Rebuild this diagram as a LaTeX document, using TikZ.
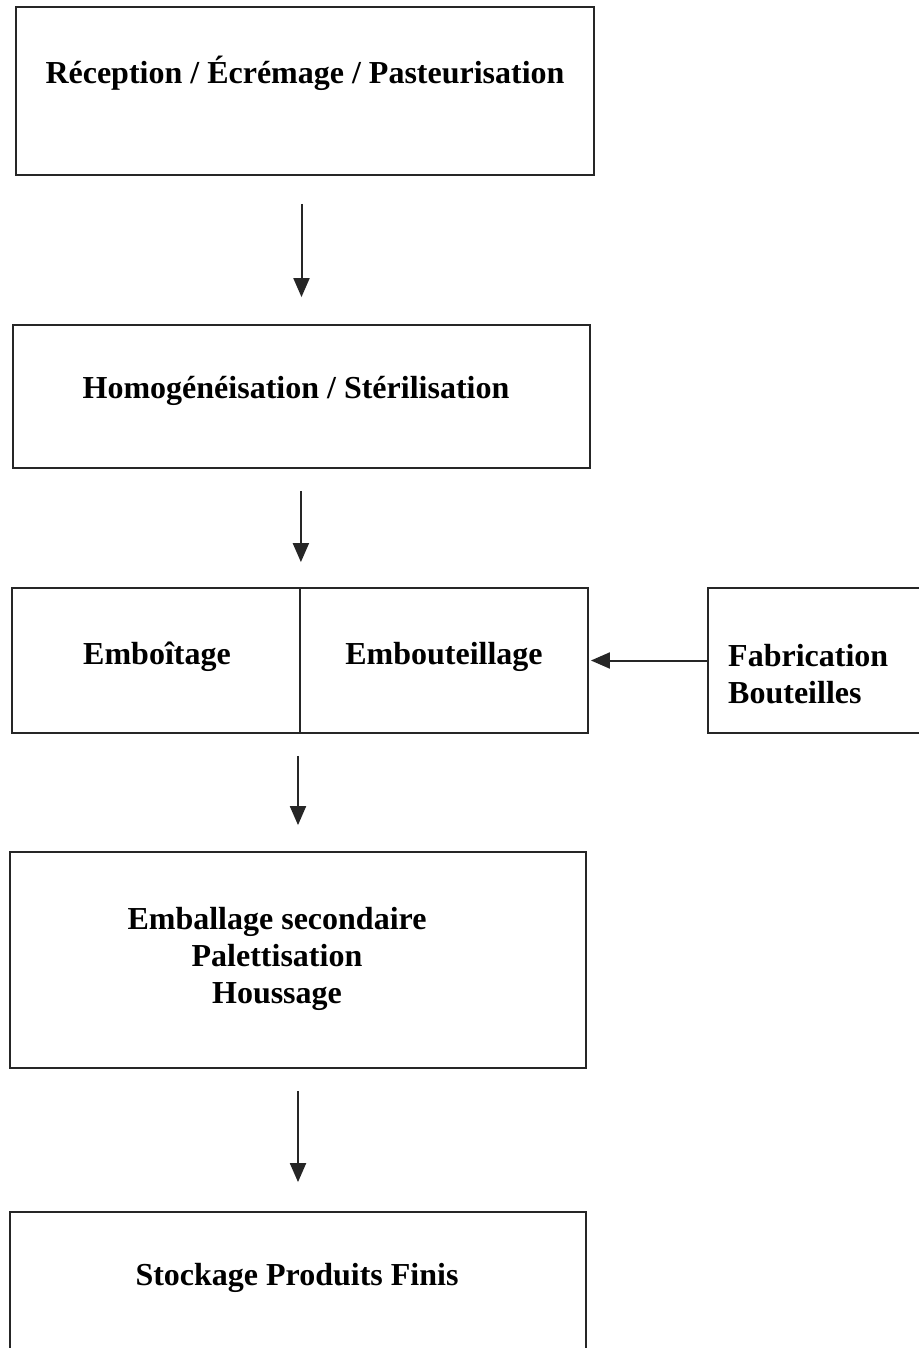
\documentclass[tikz,border=0pt]{standalone}
\usepackage{fontspec}
\setmainfont{Liberation Serif}
\usetikzlibrary{arrows.meta}

\begin{document}
\begin{tikzpicture}[x=1pt,y=-1pt,
  box/.style={draw=black!85,line width=1.8pt,inner sep=0pt},
  txt/.style={font=\fontsize{32}{37}\selectfont\bfseries,align=center,inner sep=0pt},
  flow/.style={draw=black!85,line width=2pt,-{Triangle[width=16pt,length=19pt]}}]
\useasboundingbox (0,0) rectangle (918,1348);
\node[box,minimum width=578pt,minimum height=168pt] (recv) at (305,91) {};
\node[txt] (recvt) at (305,73) {Réception / Écrémage / Pasteurisation};
\node[box,minimum width=577pt,minimum height=143pt] (homog) at (301.5,396.5) {};
\node[txt] (homogt) at (296,391) {Homogénéisation / Stérilisation};
\node[box,minimum width=288pt,minimum height=145pt] (emboi) at (156,660.5) {};
\node[box,minimum width=288pt,minimum height=145pt] (embou) at (444,660.5) {};
\node[txt] (emboit) at (157,657) {Emboîtage};
\node[txt] (emboutt) at (444,657) {Embouteillage};
\node[box,minimum width=230pt,minimum height=145pt] (fab) at (823,660.5) {};
\node[txt,align=left,anchor=west] (fabt) at (728,674) {Fabrication\\Bouteilles};
\node[box,minimum width=576pt,minimum height=216pt] (emball) at (298,960) {};
\node[txt] (emballt) at (277,959) {Emballage secondaire\\Palettisation\\Houssage};
\node[box,minimum width=576pt,minimum height=150pt] (stock) at (298,1287) {};
\node[txt] (stockt) at (297,1278) {Stockage Produits Finis};
\draw[flow] ([yshift=-28pt]homog.north |- recv.south) -- ([yshift=27pt]homog.north);
\draw[flow] ([yshift=-22pt]emboi.north east |- homog.south) -- ([yshift=25pt]emboi.north east);
\draw[flow] ([yshift=-22pt]emball.north |- emboi.south) -- ([yshift=26pt]emball.north);
\draw[flow] ([yshift=-22pt]stock.north |- emball.south) -- ([yshift=29pt]stock.north);
\draw[flow] (fab.west) -- ([xshift=2pt]embou.east);
\end{tikzpicture}
\end{document}
